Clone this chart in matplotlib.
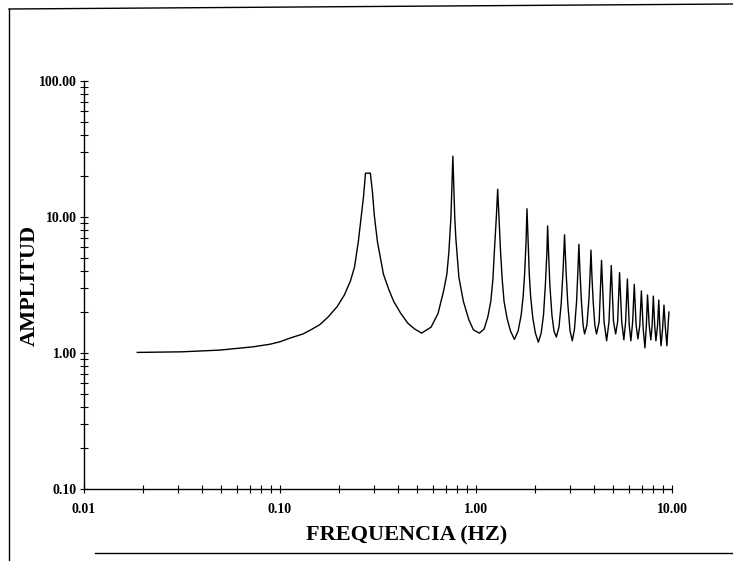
import matplotlib.pyplot as plt
from matplotlib.lines import Line2D
from matplotlib.ticker import LogLocator, NullFormatter

# Transfer function readings (frequency in Hz, amplitude)
freq_hz = [
    # plateau and fundamental mode
    0.0187, 0.0314, 0.0492, 0.0727, 0.0889, 0.100, 0.113, 0.131, 0.146, 0.160,
    0.176, 0.196, 0.213, 0.229, 0.240, 0.251, 0.260, 0.267, 0.273, 0.289,
    0.296, 0.303, 0.314, 0.326, 0.337, 0.358, 0.380, 0.412, 0.448, 0.487, 0.528,
    # 2nd mode
    0.590, 0.640, 0.685, 0.710, 0.727, 0.745, 0.753, 0.762, 0.771, 0.779,
    0.789, 0.818, 0.862, 0.920, 0.970, 1.04,
    # 3rd mode
    1.10, 1.15, 1.19, 1.22, 1.24, 1.27, 1.29, 1.31, 1.335, 1.36,
    1.39, 1.44, 1.50, 1.57,
    # 4th mode
    1.64, 1.70, 1.74, 1.77, 1.80, 1.82, 1.845, 1.87, 1.90, 1.95, 2.01, 2.08,
    # 5th mode
    2.15, 2.21, 2.26, 2.30, 2.32, 2.345, 2.38, 2.44, 2.50, 2.57,
    # 6th to 8th modes
    2.65, 2.72, 2.78, 2.83, 2.88, 2.94, 3.02, 3.10,
    3.18, 3.26, 3.31, 3.35, 3.39, 3.45, 3.52, 3.58,
    3.68, 3.77, 3.82, 3.86, 3.90, 3.96, 4.04, 4.12,
    # higher modes
    4.25, 4.37, 4.50, 4.64,
    4.77, 4.90, 5.03, 5.16,
    5.28, 5.40, 5.54, 5.68,
    5.80, 5.92, 6.05, 6.17,
    6.30, 6.42, 6.56, 6.70,
    6.85, 6.98, 7.13, 7.28,
    7.40, 7.50, 7.65, 7.80,
    7.92, 8.03, 8.16, 8.28,
    8.44, 8.56, 8.68, 8.79,
    8.95, 9.10, 9.26, 9.42,
    9.55, 9.65,
]
amplitude = [
    1.01, 1.02, 1.05, 1.11, 1.16, 1.21, 1.29, 1.38, 1.50, 1.62,
    1.84, 2.20, 2.67, 3.40, 4.29, 6.60, 10.2, 14.3, 21.0, 21.0,
    15.5, 10.2, 6.60, 4.91, 3.80, 2.96, 2.40, 1.97, 1.66, 1.50, 1.40,
    1.55, 1.95, 2.90, 3.80, 5.50, 10.0, 16.0, 28.0, 16.0, 10.0,
    7.00, 3.60, 2.40, 1.75, 1.48, 1.40,
    1.50, 1.85, 2.40, 3.50, 5.50, 10.0, 16.0, 10.0, 5.50, 3.50,
    2.40, 1.80, 1.45, 1.26,
    1.45, 1.90, 2.60, 3.80, 6.50, 11.5, 6.50, 3.80, 2.60, 1.80, 1.40, 1.20,
    1.40, 1.90, 3.20, 5.50, 8.60, 5.50, 3.20, 1.90, 1.45, 1.31,
    1.55, 2.30, 4.00, 7.40, 4.00, 2.30, 1.45, 1.23,
    1.50, 2.40, 4.00, 6.30, 4.00, 2.40, 1.60, 1.38,
    1.60, 2.50, 3.80, 5.70, 3.80, 2.40, 1.60, 1.38,
    1.70, 4.80, 1.70, 1.23,
    1.70, 4.40, 1.70, 1.38,
    1.70, 3.90, 1.70, 1.25,
    1.70, 3.50, 1.60, 1.23,
    1.70, 3.20, 1.60, 1.27,
    1.60, 2.86, 1.50, 1.09,
    1.60, 2.67, 1.60, 1.25,
    1.60, 2.62, 1.60, 1.23,
    1.60, 2.45, 1.50, 1.13,
    1.50, 2.25, 1.50, 1.13,
    1.60, 2.00,
]

x_ticks = [0.01, 0.1, 1.0, 10.0]
x_labels = ['0.01', '0.10', '1.00', '10.00']
y_ticks = [0.1, 1.0, 10.0, 100.0]
y_labels = ['0.10', '1.00', '10.00', '100.00']

plt.rcParams['font.family'] = ['Liberation Serif', 'DejaVu Serif']
plt.rcParams['font.weight'] = 'bold'

W, H = 733, 561
fig = plt.figure(figsize=(W / 100, H / 100), dpi=100)
ax = fig.add_axes([84 / W, 72 / H, 588 / W, 408 / H])

# Curve
ax.loglog(freq_hz, amplitude, color='black', linewidth=1.0)

# Axes setup
ax.set_xlim(0.01, 10)
ax.set_ylim(0.1, 100)
ax.spines['top'].set_visible(False)
ax.spines['right'].set_visible(False)
for s in ['left', 'bottom']:
    ax.spines[s].set_linewidth(1.0)

ax.set_xticks(x_ticks)
ax.set_xticklabels(x_labels)
ax.set_yticks(y_ticks)
ax.set_yticklabels(y_labels)
for axis in [ax.xaxis, ax.yaxis]:
    axis.set_minor_locator(LogLocator(base=10, subs=range(2, 10)))
    axis.set_minor_formatter(NullFormatter())

ax.tick_params(which='both', direction='inout', length=6, width=0.8, colors='black')
ax.tick_params(axis='x', which='major', labelsize=10, pad=7)
ax.tick_params(axis='y', which='major', labelsize=10, pad=2)

ax.set_xlabel('FREQUENCIA (HZ)', fontsize=16, fontweight='bold', va='center')
ax.xaxis.set_label_coords((407 - 84) / 588, (489 - 535) / 408)
ax.set_ylabel('AMPLITUD', fontsize=16, fontweight='bold', va='center')
ax.yaxis.set_label_coords((30 - 84) / 588, 0.5)

# Page frame lines from the scan
fig.add_artist(Line2D([9 / W, 9 / W], [0, 1 - 9 / H], color='black', lw=1.0))
fig.add_artist(Line2D([9 / W, 1], [1 - 9 / H, 1 - 4 / H], color='black', lw=1.0))
fig.add_artist(Line2D([95 / W, 1], [1 - 553 / H, 1 - 553 / H], color='black', lw=1.0))

fig.savefig('out.png', dpi=100)
